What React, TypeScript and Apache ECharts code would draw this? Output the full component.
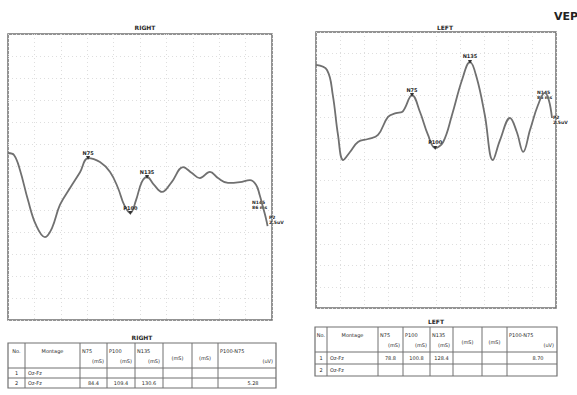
import React, { useEffect, useRef } from "react";
import * as echarts from "echarts";

// Waveform samples: latency (ms) and amplitude (uV)
const RIGHT_MS = [0, 6.8, 13.6, 22.7, 31.8, 42, 50, 59, 70.5, 82, 91, 104.5, 116, 125, 132, 139, 145.5, 152, 158, 166, 175, 186, 199, 209, 218, 229.5, 238.6, 250, 263.6, 275, 282, 286, 290, 293, 295];
const RIGHT_UV = [1.59, 1.5, 0.82, -0.55, -1.68, -2.23, -1.82, -0.77, 0, 0.73, 1.36, 1.18, 0.73, 0, -0.77, -1.14, -0.55, 0.27, 0.5, 0.14, -0.18, 0.27, 0.95, 0.68, 0.45, 0.73, 0.45, 0.23, 0.27, 0.36, 0.14, -0.32, -0.91, -1.36, -1.73];
const LEFT_MS = [0, 13.75, 21, 27.5, 34, 42.5, 52.5, 65, 77.5, 90, 100, 107.5, 120, 130, 140, 149, 159, 170, 182.5, 192.5, 201, 211, 221, 230, 242.5, 251, 259, 267.5, 277.5, 286, 291, 295];
const LEFT_UV = [5.45, 5.21, 4.03, 2.15, 0.97, 1.35, 1.82, 1.96, 2.15, 3.0, 3.18, 3.23, 4.03, 3.23, 2.15, 1.54, 1.82, 3.09, 4.74, 5.59, 4.83, 3.09, 0.97, 1.91, 2.95, 2.29, 1.35, 2.38, 3.56, 4.13, 3.8, 2.95];

// Peak markers
const RIGHT_PEAKS = [
  { name: "N75", ms: 91, uv: 1.36 },
  { name: "P100", ms: 139, uv: -1.14 },
  { name: "N135", ms: 158, uv: 0.5 },
];
const LEFT_PEAKS = [
  { name: "N75", ms: 120, uv: 4.03 },
  { name: "P100", ms: 149, uv: 1.54 },
  { name: "N135", ms: 192.5, uv: 5.59 },
];

// Tables
const TABLE_HEAD1 = ["No.", "Montage", "N75", "P100", "N135", "", "", "P100-N75"];
const TABLE_HEAD2 = ["", "", "(mS)", "(mS)", "(mS)", "(mS)", "(mS)", "(uV)"];
const RIGHT_ROWS = [
  ["1", "Oz-Fz", "", "", "", "", "", ""],
  ["2", "Oz-Fz", "84.4", "109.4", "130.6", "", "", "5.28"],
];
const LEFT_ROWS = [
  ["1", "Oz-Fz", "78.8", "100.8", "128.4", "", "", "8.70"],
  ["2", "Oz-Fz", "", "", "", "", "", ""],
];

const LINE = "#707070";
const TXT = "#2a2a2a";

function buildTable(
  cols: number[],
  yTop: number,
  yHead: number,
  rowH: number,
  rows: string[][],
  title: string
) {
  const els: any[] = [];
  const yBot = yHead + rowH * rows.length;
  const x0 = cols[0];
  const x1 = cols[cols.length - 1];
  els.push({
    type: "text",
    style: { text: title, x: (x0 + x1) / 2, y: yTop - 6, fontSize: 6, fontWeight: "bold", fill: TXT, align: "center", verticalAlign: "middle", fontFamily: "DejaVu Sans" },
  });
  els.push({ type: "rect", shape: { x: x0, y: yTop, width: x1 - x0, height: yBot - yTop }, style: { fill: "none", stroke: LINE, lineWidth: 1.2 } });
  for (let i = 1; i < cols.length - 1; i++) {
    els.push({ type: "line", shape: { x1: cols[i], y1: yTop, x2: cols[i], y2: yBot }, style: { stroke: LINE, lineWidth: 1 } });
  }
  for (let r = 0; r < rows.length; r++) {
    const y = yHead + rowH * r;
    els.push({ type: "line", shape: { x1: x0, y1: y, x2: x1, y2: y }, style: { stroke: LINE, lineWidth: 1 } });
  }
  const hMid = yTop + (yHead - yTop) * 0.3;
  const hLow = yTop + (yHead - yTop) * 0.72;
  for (let c = 0; c < cols.length - 1; c++) {
    const cx = (cols[c] + cols[c + 1]) / 2;
    if (TABLE_HEAD1[c]) {
      els.push({ type: "text", style: { text: TABLE_HEAD1[c], x: c < 2 ? cx : cols[c] + 2, y: hMid, fontSize: 5, fill: TXT, align: c < 2 ? "center" : "left", verticalAlign: "middle", fontFamily: "DejaVu Sans" } });
    }
    if (TABLE_HEAD2[c]) {
      els.push({ type: "text", style: { text: TABLE_HEAD2[c], x: TABLE_HEAD1[c] ? cols[c + 1] - 3 : cx, y: TABLE_HEAD1[c] ? hLow : (yTop + yHead) / 2 + 2, fontSize: 5, fill: TXT, align: TABLE_HEAD1[c] ? "right" : "center", verticalAlign: "middle", fontFamily: "DejaVu Sans" } });
    }
    rows.forEach((row, r) => {
      if (!row[c]) return;
      els.push({
        type: "text",
        style: { text: row[c], x: c === 1 ? cols[c] + 3 : c === 7 ? cx + 6 : cx, y: yHead + rowH * r + rowH / 2, fontSize: 5, fill: TXT, align: c === 1 ? "left" : "center", verticalAlign: "middle", fontFamily: "DejaVu Sans" },
      });
    });
  }
  return els;
}

function peakMarks(peaks: { name: string; ms: number; uv: number }[]) {
  return {
    symbol: "triangle",
    symbolRotate: 180,
    symbolSize: 4,
    itemStyle: { color: "#333" },
    label: { show: true, position: "top", distance: 1, fontSize: 5, fontWeight: "bold", color: TXT, fontFamily: "DejaVu Sans", formatter: (p: any) => p.name },
    data: peaks.map((p) => ({ name: p.name, coord: [p.ms, p.uv] })),
  };
}

export default function App() {
  const ref = useRef<HTMLDivElement>(null);
  useEffect(() => {
    if (!ref.current) return;
    const chart = echarts.init(ref.current, null, { renderer: "svg" });
    const axisCommon = {
      axisLine: { show: false },
      axisTick: { show: false },
      axisLabel: { show: false },
      splitLine: { show: true, lineStyle: { color: "#dedede", type: [1, 3], width: 1 } },
    };
    const grids = [
      { left: 8, top: 34, width: 264, height: 286 },
      { left: 316, top: 32, width: 240, height: 276 },
    ];
    chart.setOption({
      animation: false,
      backgroundColor: "#ffffff",
      title: [
        { text: "RIGHT", left: 140, top: 19, textAlign: "center", textStyle: { fontSize: 6, fontWeight: "bold", color: TXT, fontFamily: "DejaVu Sans" } },
        { text: "LEFT", left: 440, top: 19, textAlign: "center", textStyle: { fontSize: 6, fontWeight: "bold", color: TXT, fontFamily: "DejaVu Sans" } },
        { text: "VEP", left: 549, top: 6, textStyle: { fontSize: 11, fontWeight: "bold", color: "#222", fontFamily: "DejaVu Sans" } },
      ],
      grid: grids.map((g) => ({ ...g, show: true, borderColor: LINE, borderWidth: 1.5, backgroundColor: "transparent" })),
      xAxis: [0, 1].map((i) => ({ type: "value", gridIndex: i, min: 0, max: 300, interval: 30, ...axisCommon })),
      yAxis: [0, 1].map((i) => ({ type: "value", gridIndex: i, min: -6, max: 7, interval: 1, ...axisCommon })),
      series: [
        {
          type: "line",
          xAxisIndex: 0,
          yAxisIndex: 0,
          smooth: 0.4,
          showSymbol: false,
          lineStyle: { color: LINE, width: 1.8 },
          data: RIGHT_MS.map((m, i) => [m, RIGHT_UV[i]]),
          markPoint: peakMarks(RIGHT_PEAKS),
        },
        {
          type: "line",
          xAxisIndex: 1,
          yAxisIndex: 1,
          smooth: 0.4,
          showSymbol: false,
          lineStyle: { color: LINE, width: 1.8 },
          data: LEFT_MS.map((m, i) => [m, LEFT_UV[i]]),
          markPoint: peakMarks(LEFT_PEAKS),
        },
      ],
      graphic: [
        { type: "text", style: { text: "N145\n86 ms", x: 252, y: 200, fontSize: 4.5, lineHeight: 5, fontWeight: "bold", fill: TXT, fontFamily: "DejaVu Sans" } },
        { type: "text", style: { text: "P2\n2.5uV", x: 269, y: 215, fontSize: 4.5, lineHeight: 5, fontWeight: "bold", fill: TXT, fontFamily: "DejaVu Sans" } },
        { type: "text", style: { text: "N145\n86 ms", x: 537, y: 90, fontSize: 4.5, lineHeight: 5, fontWeight: "bold", fill: TXT, fontFamily: "DejaVu Sans" } },
        { type: "text", style: { text: "P2\n2.5uV", x: 553, y: 115, fontSize: 4.5, lineHeight: 5, fontWeight: "bold", fill: TXT, fontFamily: "DejaVu Sans" } },
        ...buildTable([8, 25, 80, 107, 135, 163, 192, 218, 276], 343, 368, 10, RIGHT_ROWS, "RIGHT"),
        ...buildTable([315, 327, 378, 403, 430, 453, 482, 507, 557], 327, 352, 12, LEFT_ROWS, "LEFT"),
      ],
    });
    return () => chart.dispose();
  }, []);
  return <div ref={ref} style={{ position: "fixed", left: 0, top: 0, width: 577, height: 395 }} />;
}
